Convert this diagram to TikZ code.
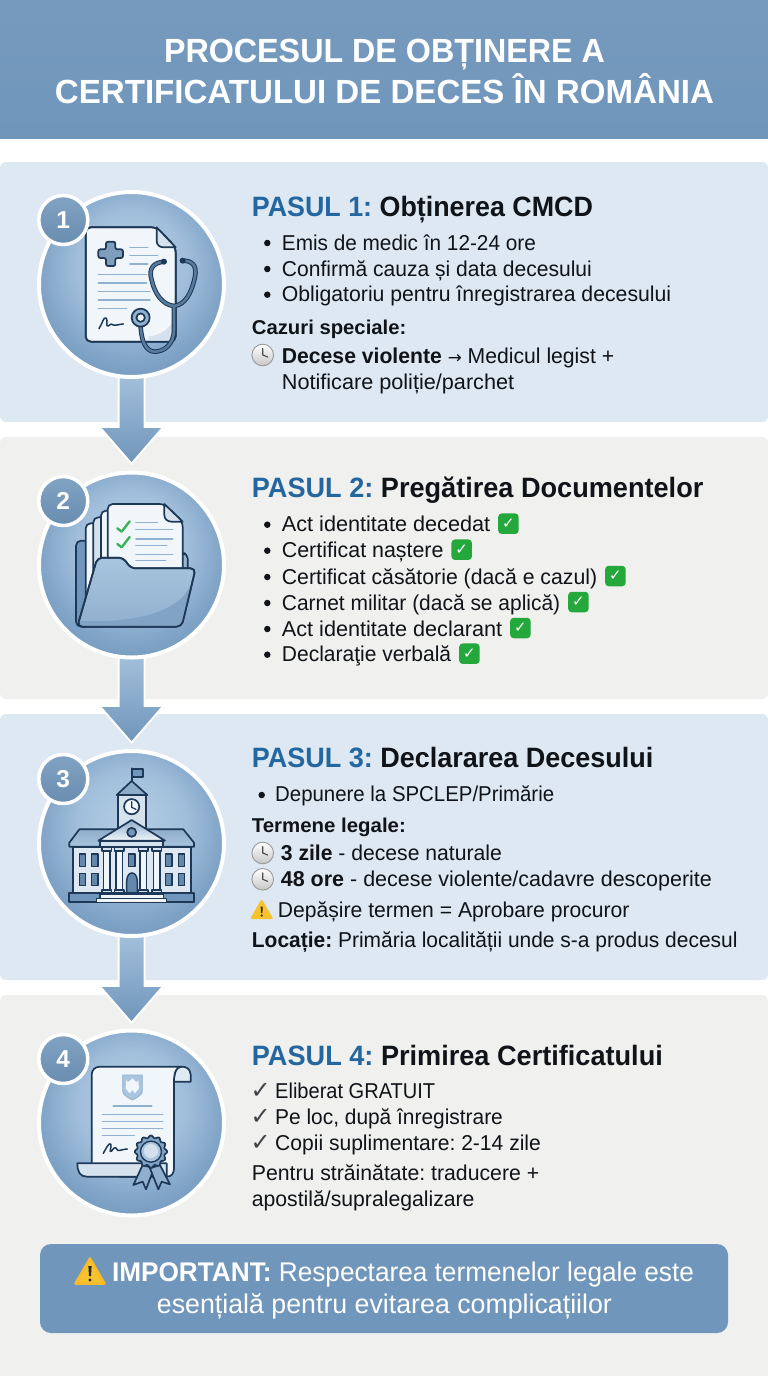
\documentclass[tikz,border=0pt]{standalone}
\usepackage{graphicx}
\usepackage{fontspec}
\setmainfont{Liberation Sans}
\newfontfamily\symfont{DejaVu Sans}
\newcommand\pxf[1]{\fontsize{#1}{#1}\selectfont}
\newcommand\fitw[2]{\resizebox{#1pt}{\height}{#2}}
\definecolor{hdr}{HTML}{7096BB}
\definecolor{cardblue}{HTML}{DDE8F2}
\definecolor{cardgrey}{HTML}{F0F0EF}
\definecolor{ink}{HTML}{101318}
\definecolor{stepblue}{HTML}{24669F}
\definecolor{navy}{HTML}{1E3857}
\definecolor{paper}{HTML}{F1F6FB}
\definecolor{fold}{HTML}{D5E2EE}
\definecolor{steel}{HTML}{8FB0CE}
\definecolor{midblue}{HTML}{A9C5DF}
\definecolor{okgreen}{HTML}{24A83C}
\definecolor{checkgreen}{HTML}{3BB25C}
\definecolor{warn}{HTML}{F6C22E}
\definecolor{discA}{HTML}{B5CEE4}
\definecolor{discB}{HTML}{A0BEDB}
\definecolor{discC}{HTML}{7FA3C6}
\definecolor{discD}{HTML}{6F96BB}
\pgfdeclareradialshading{disc}{\pgfpoint{0bp}{7bp}}{
  color(0bp)=(discA);
  color(15bp)=(discB);
  color(25bp)=(discC);
  color(32bp)=(discD);
  color(50bp)=(discD)}
\tikzset{
  card/.style={rounded corners=6pt, draw=none},
  bigdisc/.style={circle, minimum size=185pt, inner sep=0pt, draw=white, line width=4pt, shading=disc},
  badge/.style={circle, minimum size=49pt, inner sep=0pt, draw=white, line width=3.5pt, top color=hdr!88!white, bottom color=hdr!94!black, text=white, font=\pxf{24.5}\bfseries},
  flowarrow/.style={top color=midblue, bottom color=hdr, preaction={draw=white, line width=4pt, line join=miter}},
  txt/.style={anchor=base west, inner sep=0pt, text=ink, font=\pxf{21.5}},
  boldtxt/.style={txt, font=\pxf{20}\bfseries},
  headtxt/.style={txt, font=\pxf{28}\bfseries},
  bulletdot/.style={circle, fill=ink, minimum size=6.5pt, inner sep=0pt},
  title/.style={anchor=base, inner sep=0pt, text=white, font=\pxf{33.5}\bfseries},
  banner/.style={anchor=base west, inner sep=0pt, text=white, font=\pxf{27}},
  okbox/.style={rectangle, rounded corners=3.5pt, fill=okgreen, text=white, minimum size=20.5pt, inner sep=0pt, font=\pxf{15}\symfont\bfseries},
  tickmark/.style={anchor=base west, inner sep=0pt, text=ink!80!white, font=\pxf{24}\symfont},
  iconline/.style={draw=navy, line width=1.7pt, line join=round, line cap=round},
  rule/.style={draw=steel, line width=1.5pt, line cap=round},
  clockpic/.pic={
    \draw[draw=black!40, line width=.9pt, top color=white, bottom color=black!22] (0,0) circle (10.8pt);
    \draw[black!70, line width=1.1pt, line cap=round] (0,-6.5) -- (0,0) -- (5,2);
  },
  warnpic/.pic={
    \path[fill=warn, draw=warn, line width=2pt, line join=round] (-10,8.5) -- (0,-8.5) -- (10,8.5) -- cycle;
    \fill[black!85] (-1,-3) -- (1,-3) -- (.7,3.5) -- (-.7,3.5) -- cycle;
    \fill[black!85] (0,6) circle (1.2pt);
  },
  bigwarnpic/.pic={
    \path[fill=warn, draw=warn!90!orange, line width=2.5pt, line join=round] (-14.5,12.5) -- (0,-12.5) -- (14.5,12.5) -- cycle;
    \fill[black!85] (-1.6,-5) -- (1.6,-5) -- (1,5) -- (-1,5) -- cycle;
    \fill[black!85] (0,9) circle (1.7pt);
  },
}
\begin{document}
\frenchspacing
\begin{tikzpicture}[x=1pt,y=-1pt]
\useasboundingbox (0,0) rectangle (768,1376);
\fill[white] (0,0) rectangle (768,1376);
% header
\fill[top color=hdr!96!white, bottom color=hdr] (0,0) rectangle (768,138);
\node[title] (titleA) at (384.5,62.5) {\fitw{441}{PROCESUL DE OBȚINERE A}};
\node[title] (titleB) at (384.5,103.5) {\fitw{659}{CERTIFICATULUI DE DECES ÎN ROMÂNIA}};
% cards
\fill[card, fill=cardblue] (0,162) rectangle (768,422);
\fill[card, fill=cardgrey] (0,437) rectangle (768,699);
\fill[card, fill=cardblue] (0,714) rectangle (768,980);
\fill[card, fill=cardgrey] (0,995) rectangle (768,1382);
% circle positions (drawn after the arrows)
\coordinate (p1) at (131.5,284.5);
\coordinate (p2) at (131.5,565);
\coordinate (p3) at (131.5,843.5);
\coordinate (p4) at (131.5,1123);
\coordinate (t1) at (131.5,462);
\coordinate (t2) at (131.5,741);
\coordinate (t3) at (131.5,1021);
\foreach \a/\b in {p1/t1,p2/t2,p3/t3}{
  \path[flowarrow] ([xshift=-12pt,yshift=-80pt]\a) -- ([xshift=-12pt,yshift=34pt]\b) -- ([xshift=-29.5pt,yshift=34pt]\b) -- (\b) -- ([xshift=29.5pt,yshift=34pt]\b) -- ([xshift=12pt,yshift=34pt]\b) -- ([xshift=12pt,yshift=-80pt]\a) -- cycle;
}
\node[bigdisc] (c1) at (p1) {};
\node[bigdisc] (c2) at (p2) {};
\node[bigdisc] (c3) at (p3) {};
\node[bigdisc] (c4) at (p4) {};
% ---------------- icon 1
\begin{scope}[shift={(20,170)},x=.3333pt,y=-.3333pt]
  \path[iconline, fill=paper, rounded corners=5pt] (197,172) -- (410,172) -- (467,232) -- (467,515) -- (197,515) -- cycle;
  \path[fill=fold] (467,440) .. controls (450,480) and (420,495) .. (385,500) -- (385,513) -- (465,513) -- cycle;
  \path[iconline, rounded corners=5pt] (197,172) -- (410,172) -- (467,232) -- (467,515) -- (197,515) -- cycle;
  \path[iconline, fill=fold] (410,172) -- (410,212) .. controls (410,226) and (420,232) .. (432,232) -- (467,232) -- cycle;
  \path[iconline, fill=steel!85!navy, rounded corners=2pt] (258,215) -- (286,215) -- (286,238) -- (309,238) -- (309,264) -- (286,264) -- (286,288) -- (258,288) -- (258,264) -- (235,264) -- (235,238) -- (258,238) -- cycle;
  \foreach \xa/\xb/\yy in {330/383/232,330/413/257,330/383/282,235/380/313,235/380/339,235/390/364,235/390/390,235/320/416}
    \draw[rule] (\xa,\yy) -- (\xb,\yy);
  \draw[navy, line width=1.5pt, line cap=round, line join=round] (237,476) .. controls (248,460) and (250,440) .. (258,444) .. controls (266,450) and (255,472) .. (265,468) .. controls (275,460) and (275,462) .. (280,465) .. controls (288,468) and (298,462) .. (310,462);
  \foreach \w/\c in {4.6pt/navy,2.6pt/hdr!70!navy}{
    \draw[\c, line width=\w, line cap=round] (432,275) .. controls (400,278) and (385,295) .. (395,330) .. controls (405,375) and (430,405) .. (462,408) .. controls (495,405) and (515,370) .. (525,320) .. controls (532,285) and (515,272) .. (488,272);
    \draw[\c, line width=\w] (462,408) -- (462,480) .. controls (462,525) and (430,545) .. (405,545) .. controls (380,545) and (365,520) .. (362,470);
  }
  \fill[navy] (432,275) circle (3pt) (488,272) circle (3pt);
  \path[iconline, fill=steel] (362,443) circle (9pt);
  \path[iconline, fill=paper] (362,443) circle (4.2pt);
\end{scope}
% ---------------- icon 2
\begin{scope}[shift={(20,470)},x=.3333pt,y=-.3333pt]
  \path[iconline, fill=hdr, rounded corners=5pt] (168,470) -- (168,212) -- (215,212) -- (215,470) -- cycle;
  \path[iconline, fill=paper, rounded corners=5pt] (197,400) -- (197,160) -- (245,160) -- (245,400) -- cycle;
  \path[iconline, fill=fold, rounded corners=5pt] (220,400) -- (220,142) -- (265,142) -- (265,400) -- cycle;
  \path[iconline, fill=paper, rounded corners=5pt] (243,400) -- (243,122) -- (285,122) -- (285,400) -- cycle;
  \path[iconline, fill=hdr!60!fold, rounded corners=5pt] (480,250) -- (503,250) -- (503,310) -- (480,310) -- cycle;
  \path[iconline, fill=paper, rounded corners=5pt] (263,400) -- (263,102) -- (433,102) -- (488,155) -- (488,400) -- cycle;
  \path[iconline, fill=fold] (433,102) -- (433,135) .. controls (433,148) and (443,155) .. (455,155) -- (488,155) -- cycle;
  \draw[checkgreen, line width=2.4pt, line cap=round, line join=round] (292,175) -- (305,185) -- (329,154);
  \draw[checkgreen, line width=2.4pt, line cap=round, line join=round] (292,222) -- (305,232) -- (329,201);
  \foreach \xb/\yy in {412/158,458/178,458/207,440/226,458/253,437/272}
    \draw[rule] (348,\yy) -- (\xb,\yy);
  \path[iconline, top color=midblue, bottom color=steel, rounded corners=5pt] (232,263) -- (310,263) -- (332,295) -- (527,295) -- (485,470) -- (172,470) -- cycle;
  \path[fill=hdr!45!steel, rounded corners=3pt] (176,452) .. controls (330,460) and (470,430) .. (512,345) -- (485,467) -- (175,467) -- cycle;
  \path[iconline, rounded corners=5pt] (232,263) -- (310,263) -- (332,295) -- (527,295) -- (485,470) -- (172,470) -- cycle;
\end{scope}
% ---------------- icon 3
\begin{scope}[shift={(20,745)},x=.3333pt,y=-.3333pt]
  \path[iconline] (335,110) -- (335,70);
  \path[iconline, fill=hdr] (335,72) rectangle (368,95);
  \path[iconline, fill=fold] (295,150) rectangle (378,250);
  \path[iconline, fill=hdr!70!fold] (290,150) -- (335,108) -- (382,150) -- cycle;
  \path[iconline, fill=paper] (335,185) circle (7.6pt);
  \draw[navy, line width=1.2pt, line cap=round] (335,170) -- (335,187) -- (348,193);
  \path[iconline, top color=hdr!70!fold, bottom color=midblue] (148,305) -- (148,293) -- (178,253) -- (490,253) -- (522,293) -- (522,305) -- cycle;
  \path[iconline, fill=fold!70!paper] (158,305) rectangle (512,445);
  \foreach \xa in {178,215,437,475}\foreach \ya in {327,385}
    \path[iconline, fill=hdr!85!navy, line width=1.4pt] (\xa,\ya) rectangle ++(19,37);
  \path[iconline, fill=hdr!85!navy, line width=1.4pt] (325,327) rectangle (345,365);
  \path[iconline, fill=hdr!85!navy, line width=1.4pt] (320,445) -- (320,410) .. controls (320,375) and (352,375) .. (352,410) -- (352,445) -- cycle;
  \foreach \cx in {260,298,370,410}{
    \path[iconline, fill=paper, line width=1.4pt] (\cx-10,318) rectangle (\cx+10,435);
    \path[iconline, fill=fold, line width=1.4pt] (\cx-14,306) rectangle (\cx+14,318);
    \path[iconline, fill=fold, line width=1.4pt] (\cx-14,435) rectangle (\cx+14,445);
  }
  \path[iconline, fill=fold] (240,287) rectangle (430,305);
  \path[iconline, top color=hdr!70!fold, bottom color=paper] (235,287) -- (335,225) -- (435,287) -- cycle;
  \path[iconline, fill=hdr] (335,262) circle (4.5pt);
  \path[iconline, fill=hdr] (148,445) rectangle (522,472);
  \path[iconline, fill=paper, line width=1.4pt] (240,447) rectangle (430,460);
  \path[iconline, fill=paper, line width=1.4pt] (230,460) rectangle (440,472);
\end{scope}
% ---------------- icon 4
\begin{scope}[shift={(20,1025)},x=.3333pt,y=-.3333pt]
  \path[iconline, fill=fold!60!paper] (462,170) -- (512,170) -- (512,148) .. controls (510,130) and (498,125) .. (485,125) .. controls (470,125) and (462,140) .. (462,170) -- cycle;
  \path[iconline, fill=paper] (215,420) -- (215,150) .. controls (215,135) and (225,125) .. (240,125) -- (485,125) .. controls (470,125) and (462,140) .. (462,170) -- (462,430) .. controls (462,445) and (455,455) .. (440,455) -- (300,455) -- cycle;
  \path[iconline, fill=fold] (172,415) -- (440,415) -- (440,455) -- (200,455) .. controls (180,455) and (172,440) .. (172,415) -- cycle;
  \path[fill=midblue, draw=steel, line width=.8pt] (308,150) -- (367,150) -- (367,200) .. controls (365,212) and (345,220) .. (337,225) .. controls (330,220) and (310,212) .. (308,200) -- cycle;
  \fill[paper] (337,160) -- (350,172) -- (355,165) -- (357,190) -- (345,205) -- (337,195) -- (329,205) -- (317,190) -- (319,165) -- (324,172) -- cycle;
  \draw[rule, line width=2pt] (280,242) -- (395,242);
  \foreach \xb/\yy in {428/268,428/290,428/310,343/331}
    \draw[rule] (247,\yy) -- (\xb,\yy);
  \draw[navy, line width=1.5pt, line cap=round, line join=round] (250,385) .. controls (258,370) and (268,350) .. (273,358) .. controls (275,368) and (265,385) .. (275,378) .. controls (285,362) and (288,368) .. (293,376) .. controls (300,378) and (310,372) .. (322,372);
  \path[iconline, fill=steel, line join=round] (368,420) -- (340,480) -- (368,470) -- (378,493) -- (402,430) -- cycle;
  \path[iconline, fill=steel, line join=round] (390,430) -- (415,493) -- (425,470) -- (450,478) -- (420,420) -- cycle;
  \path[iconline, fill=hdr!70!midblue] plot[domain=0:360,samples=121,smooth] ({393+(45+3.5*cos(12*\x))*cos(\x)},{380+(45+3.5*cos(12*\x))*sin(\x)}) -- cycle;
  \path[iconline, fill=midblue, line width=1.4pt] (393,380) circle (10.5pt);
  \fill[fold] (393,378) circle (7pt);
\end{scope}
% badges
\node[badge] (b1) at (63.3,220) {1};
\node[badge] (b2) at (63.3,501) {2};
\node[badge] (b3) at (63.3,779) {3};
\node[badge] (b4) at (63.3,1059) {4};
% ---------- step 1 text
\node[headtxt] (h1) at (251.7,216.5) {\fitw{341}{\textcolor{stepblue}{PASUL 1:} Obținerea CMCD}};
\foreach \n/\y/\w/\t in {a/250/254/Emis de medic în 12-24 ore,b/276/310/Confirmă cauza și data decesului,c/301.7/389.3/Obligatoriu pentru înregistrarea decesului}{
  \node[bulletdot] (d1\n) at (267.3,\y-7) {};
  \node[txt] (t1\n) at (281.7,\y) {\fitw{\w}{\t}};
}
\node[boldtxt] (s1) at (251.7,334) {\fitw{154.5}{Cazuri speciale:}};
\pic at (262.7,355) {clockpic};
\node[txt] (t1d) at (281.7,363.3) {\fitw{332.3}{\textbf{Decese violente} {\symfont\pxf{17}→} Medicul legist +}};
\node[txt] (t1e) at (281.7,389) {\fitw{232.3}{Notificare poliție/parchet}};
% ---------- step 2 text
\node[headtxt] (h2) at (251.7,497) {\fitw{451.5}{\textcolor{stepblue}{PASUL 2:} Pregătirea Documentelor}};
\foreach \n/\y/\w/\t in {a/531.7/208.3/Act identitate decedat,b/557.7/161.6/Certificat naștere,c/584/315.3/Certificat căsătorie (dacă e cazul),d/610/278.3/Carnet militar (dacă se aplică),e/636/220.3/Act identitate declarant,f/661.7/169.3/Declaraţie verbală}{
  \node[bulletdot] (d2\n) at (267.3,\y-7) {};
  \node[txt] (t2\n) at (281.7,\y) {\fitw{\w}{\t}};
  \node[okbox] (k2\n) at ([xshift=18pt,yshift=8pt]t2\n.base east) {✓};
}
% ---------- step 3 text
\node[headtxt] (h3) at (251.7,767.3) {\fitw{401.6}{\textcolor{stepblue}{PASUL 3:} Declararea Decesului}};
\node[bulletdot] (d3a) at (261.7,795) {};
\node[txt] (t3a) at (275,801.7) {\fitw{279}{Depunere la SPCLEP/Primărie}};
\node[boldtxt] (s3) at (251.7,832) {\fitw{154}{Termene legale:}};
\pic at (262.7,853) {clockpic};
\node[txt] (t3b) at (280.7,860.7) {\fitw{221}{\textbf{3 zile} - decese naturale}};
\pic at (262.7,879.3) {clockpic};
\node[txt] (t3c) at (280.7,886.7) {\fitw{431}{\textbf{48 ore} - decese violente/cadavre descoperite}};
\pic at (261.7,909.5) {warnpic};
\node[txt] (t3d) at (277.7,917.3) {\fitw{351.6}{Depășire termen = Aprobare procuror}};
\node[txt] (t3e) at (251.7,947.3) {\fitw{485.6}{\textbf{Locație:} Primăria localității unde s-a produs decesul}};
% ---------- step 4 text
\node[headtxt] (h4) at (251.7,1065) {\fitw{411}{\textcolor{stepblue}{PASUL 4:} Primirea Certificatului}};
\foreach \n/\y/\w/\t in {a/1098.3/160/Eliberat GRATUIT,b/1124.3/227.7/{Pe loc, după înregistrare},c/1150.7/265.7/Copii suplimentare: 2-14 zile}{
  \node[tickmark] (m4\n) at (250.5,\y) {✓};
  \node[txt] (t4\n) at (275,\y) {\fitw{\w}{\t}};
}
\node[txt] (t4d) at (251.7,1180.7) {\fitw{287.3}{Pentru străinătate: traducere +}};
\node[txt] (t4e) at (251.7,1206.7) {\fitw{222.6}{apostilă/supralegalizare}};
% ---------- banner
\fill[fill=hdr, rounded corners=11pt] (40,1244) rectangle (728,1333);
\pic at (90,1271) {bigwarnpic};
\node[banner] (i1) at (111.8,1281.7) {\fitw{582}{\textbf{IMPORTANT:} Respectarea termenelor legale este}};
\node[banner, anchor=base] (i2) at (384.5,1313.3) {\fitw{455}{esențială pentru evitarea complicațiilor}};
\end{tikzpicture}
\end{document}
